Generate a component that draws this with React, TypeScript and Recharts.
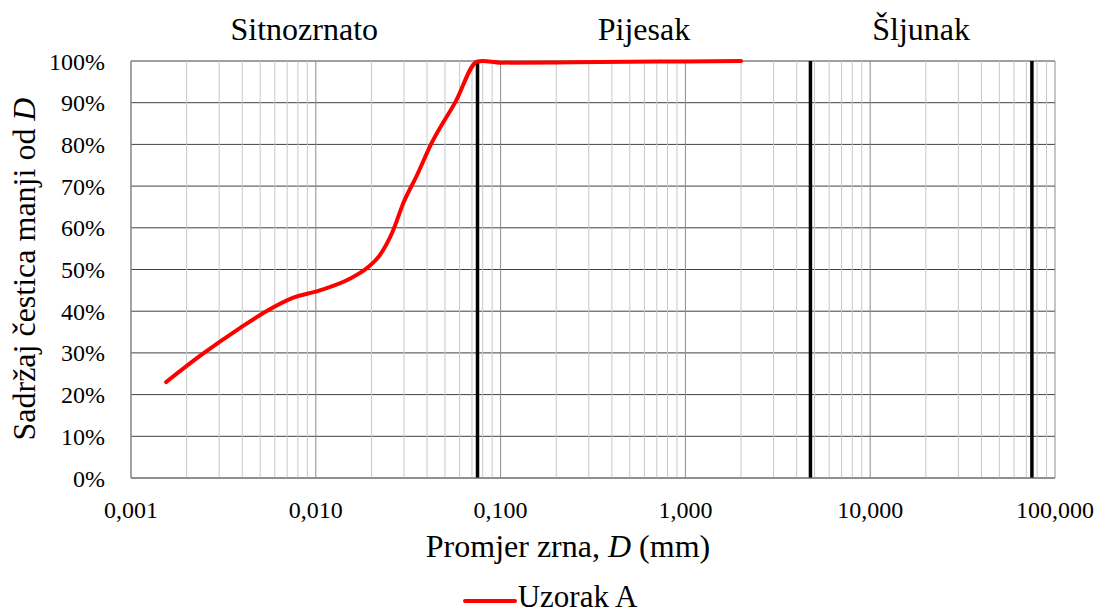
import React from 'react';
import {
  LineChart,
  Line,
  XAxis,
  YAxis,
  CartesianGrid,
  ReferenceLine,
  ReferenceArea,
  Legend,
} from 'recharts';

// grain size (mm) and percent passing
const grainSize = [
  0.00155, 0.0024, 0.0039, 0.0054, 0.0075, 0.0105, 0.015, 0.019, 0.022, 0.026,
  0.03, 0.035, 0.042, 0.057, 0.075, 0.08, 0.1, 0.25, 0.5, 1, 2,
];
const passing = [
  23, 29.5, 36, 40, 43.2, 45, 47.6, 50.4, 53.2, 59,
  66.3, 72.3, 80, 90.2, 99.9, 100, 99.6, 99.7, 99.8, 99.9, 100,
];

const decadeTicks = [0.001, 0.01, 0.1, 1, 10, 100];
const percentTicks = [0, 10, 20, 30, 40, 50, 60, 70, 80, 90, 100];

// soil class boundaries (mm) and names of the zones between them
const boundaries = [0.075, 4.75, 75];
const zoneNames = ['Sitnozrnato', 'Pijesak', 'Šljunak'];
const zoneLimits = [0.001, 0.075, 4.75, 75];

const rows = grainSize.map((d, i) => ({ d, passing: passing[i] }));

// minor log grid: 2..9 within each decade
const minorLines: number[] = [];
decadeTicks.slice(0, -1).forEach((dec) => {
  for (let k = 2; k <= 9; k++) minorLines.push(Number((dec * k).toPrecision(3)));
});

const FONT = 'Liberation Serif';
const W = 1099;
const H = 612;
const TITLE = 32;

const formatMm = (v: number) => v.toFixed(3).replace('.', ',');

export default function App() {
  return (
    <div style={{ position: 'absolute', left: 0, top: 0, fontFamily: FONT }}>
      <LineChart
        width={W}
        height={H}
        data={rows}
        margin={{ top: 61, right: 44, left: 0, bottom: 0 }}
      >
        <CartesianGrid vertical={false} stroke="#404040" strokeWidth={1} />
        {minorLines.map((v) => (
          <ReferenceLine key={`m${v}`} x={v} stroke="#c8c8c8" strokeWidth={1} />
        ))}
        {decadeTicks.map((v) => (
          <ReferenceLine key={`d${v}`} x={v} stroke="#8c8c8c" strokeWidth={1} />
        ))}
        {zoneNames.map((name, i) => (
          <ReferenceArea
            key={name}
            x1={zoneLimits[i]}
            x2={zoneLimits[i + 1]}
            fillOpacity={0}
            strokeOpacity={0}
            label={{
              value: name,
              position: 'top',
              offset: 21,
              fill: '#000',
              fontSize: TITLE,
              fontFamily: FONT,
            }}
          />
        ))}
        {boundaries.map((v) => (
          <ReferenceLine key={`b${v}`} x={v} stroke="#000" strokeWidth={3.5} />
        ))}
        <XAxis
          dataKey="d"
          type="number"
          scale="log"
          domain={[0.001, 100]}
          allowDataOverflow
          ticks={decadeTicks}
          tickFormatter={formatMm}
          tickLine={false}
          tickSize={0}
          tickMargin={23}
          axisLine={{ stroke: '#808080' }}
          height={94}
          tick={{ fill: '#000', fontSize: 24, fontFamily: FONT }}
          label={() => (
            <text x={568} y={557} textAnchor="middle" fill="#000" fontSize={TITLE} fontFamily={FONT}>
              Promjer zrna, <tspan fontStyle="italic">D</tspan> (mm)
            </text>
          )}
        />
        <YAxis
          type="number"
          domain={[0, 100]}
          ticks={percentTicks}
          tickFormatter={(v: number) => `${v}%`}
          tickLine={false}
          tickSize={0}
          tickMargin={26}
          axisLine={{ stroke: '#808080' }}
          width={131}
          tick={{ fill: '#000', fontSize: 24, fontFamily: FONT }}
          label={() => (
            <text
              x={35}
              y={269}
              transform="rotate(-90, 35, 269)"
              textAnchor="middle"
              fill="#000"
              fontSize={TITLE}
              fontFamily={FONT}
            >
              Sadržaj čestica manji od <tspan fontStyle="italic">D</tspan>
            </text>
          )}
        />
        <Legend
          verticalAlign="bottom"
          align="center"
          wrapperStyle={{ left: 0, width: W, height: 40, bottom: 0 }}
          content={() => (
            <div
              style={{
                display: 'flex',
                justifyContent: 'center',
                alignItems: 'flex-start',
                height: 40,
                paddingTop: 9,
                boxSizing: 'border-box',
                fontFamily: FONT,
              }}
            >
              <svg width={56} height={31}>
                <line x1={3} y1={20} x2={53} y2={20} stroke="#ff0000" strokeWidth={4} strokeLinecap="round" />
              </svg>
              <span style={{ fontSize: 31, lineHeight: '31px', color: '#000' }}>Uzorak A</span>
            </div>
          )}
        />
        <Line
          type="monotone"
          dataKey="passing"
          name="Uzorak A"
          stroke="#ff0000"
          strokeWidth={4}
          strokeLinecap="round"
          dot={false}
          activeDot={false}
          isAnimationActive={false}
        />
      </LineChart>
    </div>
  );
}
